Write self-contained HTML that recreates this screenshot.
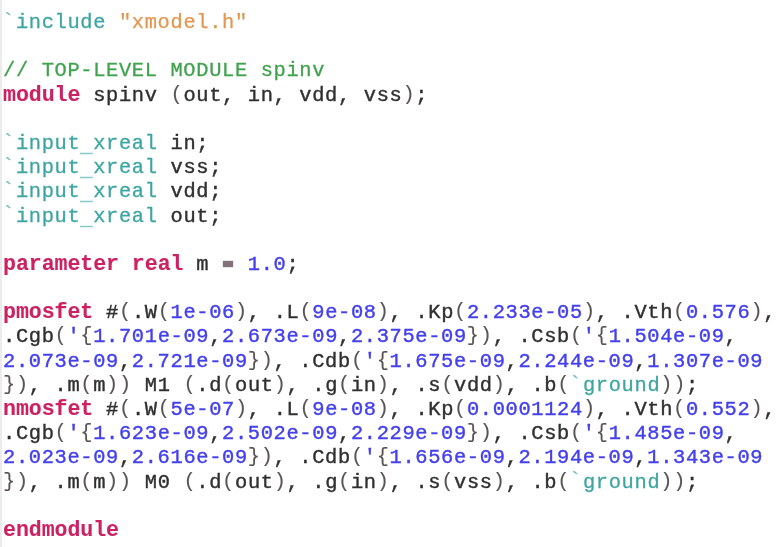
<!DOCTYPE html>
<html><head><meta charset="utf-8">
<style>
html,body{margin:0;padding:0;background:#fff;}
body{width:782px;height:547px;overflow:hidden;position:relative;}
pre{position:absolute;left:3.25px;top:10.7px;margin:0;font-family:"Liberation Mono",monospace;font-size:20.4px;letter-spacing:0.647px;line-height:24.19px;color:#303030;white-space:pre;-webkit-text-stroke:0.4px currentColor;text-shadow:none;will-change:transform;}
.k{color:#cc2262;font-weight:bold;line-height:0;text-shadow:none;font-size:21.6px;letter-spacing:-0.073px;-webkit-text-stroke:0.1px currentColor;}
.m{color:#3ea6a2;-webkit-text-stroke:0.3px currentColor;}
.s{color:#e49650;-webkit-text-stroke:0.25px currentColor;}
.c{color:#40a24e;-webkit-text-stroke:0.3px currentColor;}
.n{color:#4440ec;-webkit-text-stroke:0.4px currentColor;}
b{font-weight:normal;color:#5a5454;-webkit-text-stroke:0.1px currentColor;display:inline-block;transform:translateY(-1.2px) scaleY(1);transform-origin:50% 0px;}
i{font-style:normal;color:transparent;-webkit-text-stroke:0;position:relative;}
i::after{content:'';position:absolute;left:0.7px;top:7.7px;width:10.2px;height:6.6px;background:#807278;box-shadow:0 0 1.5px #807278;}
s{text-decoration:none;position:relative;top:3px;opacity:0.6;}
u{text-decoration:none;position:relative;top:-1.2px;left:-1px;opacity:0.75;}
.edge{position:absolute;left:0;top:0;width:2px;height:547px;background:#ececec;}
</style></head><body>
<div class="edge"></div>
<pre><span class="m"><u>`</u>include</span> <span class="s">"xmodel.h"</span>

<span class="c">// TOP-LEVEL MODULE spinv</span>
<span class="k">module</span> spinv <b>(</b>out, in, vdd, vss<b>)</b>;

<span class="m"><u>`</u>input<s>_</s>xreal</span> in;
<span class="m"><u>`</u>input<s>_</s>xreal</span> vss;
<span class="m"><u>`</u>input<s>_</s>xreal</span> vdd;
<span class="m"><u>`</u>input<s>_</s>xreal</span> out;

<span class="k">parameter</span> <span class="k">real</span> m <i>=</i> <span class="n">1.0</span>;

<span class="k">pmosfet</span> #<b>(</b>.W<b>(</b><span class="n">1e-06</span><b>)</b>, .L<b>(</b><span class="n">9e-08</span><b>)</b>, .Kp<b>(</b><span class="n">2.233e-05</span><b>)</b>, .Vth<b>(</b><span class="n">0.576</span><b>)</b>,
.Cgb<b>(</b><span class="n">'</span><b>{</b><span class="n">1.701e-09</span>,<span class="n">2.673e-09</span>,<span class="n">2.375e-09</span><b>}</b><b>)</b>, .Csb<b>(</b><span class="n">'</span><b>{</b><span class="n">1.504e-09</span>,
<span class="n">2.073e-09</span>,<span class="n">2.721e-09</span><b>}</b><b>)</b>, .Cdb<b>(</b><span class="n">'</span><b>{</b><span class="n">1.675e-09</span>,<span class="n">2.244e-09</span>,<span class="n">1.307e-09</span>
<b>}</b><b>)</b>, .m<b>(</b>m<b>)</b><b>)</b> M1 <b>(</b>.d<b>(</b>out<b>)</b>, .g<b>(</b>in<b>)</b>, .s<b>(</b>vdd<b>)</b>, .b<b>(</b><span class="m"><u>`</u>ground</span><b>)</b><b>)</b>;
<span class="k">nmosfet</span> #<b>(</b>.W<b>(</b><span class="n">5e-07</span><b>)</b>, .L<b>(</b><span class="n">9e-08</span><b>)</b>, .Kp<b>(</b><span class="n">0.0001124</span><b>)</b>, .Vth<b>(</b><span class="n">0.552</span><b>)</b>,
.Cgb<b>(</b><span class="n">'</span><b>{</b><span class="n">1.623e-09</span>,<span class="n">2.502e-09</span>,<span class="n">2.229e-09</span><b>}</b><b>)</b>, .Csb<b>(</b><span class="n">'</span><b>{</b><span class="n">1.485e-09</span>,
<span class="n">2.023e-09</span>,<span class="n">2.616e-09</span><b>}</b><b>)</b>, .Cdb<b>(</b><span class="n">'</span><b>{</b><span class="n">1.656e-09</span>,<span class="n">2.194e-09</span>,<span class="n">1.343e-09</span>
<b>}</b><b>)</b>, .m<b>(</b>m<b>)</b><b>)</b> M0 <b>(</b>.d<b>(</b>out<b>)</b>, .g<b>(</b>in<b>)</b>, .s<b>(</b>vss<b>)</b>, .b<b>(</b><span class="m"><u>`</u>ground</span><b>)</b><b>)</b>;

<span class="k">endmodule</span></pre>
</body></html>
